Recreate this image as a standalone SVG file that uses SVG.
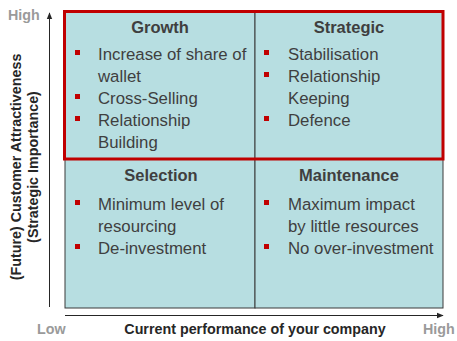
<svg xmlns="http://www.w3.org/2000/svg" width="457" height="341" viewBox="0 0 457 341">
  <defs>
    <marker id="arrow" viewBox="0 0 10 10" refX="9" refY="5" markerWidth="7" markerHeight="7" markerUnits="userSpaceOnUse" orient="auto">
      <path d="M0,1 L10,5 L0,9 Z" fill="#262626"/>
    </marker>
    <rect id="bullet" width="5" height="5" fill="#c00000"/>
  </defs>
  <style>
    .cell { fill: #b7dee1; stroke: #3a3a3a; stroke-width: 1; }
    .title { font-family: "Liberation Sans", Arial, sans-serif; font-weight: bold; font-size: 16.5px; fill: #3f3f3f; text-anchor: middle; }
    .item { font-family: "Liberation Sans", Arial, sans-serif; font-size: 16.8px; fill: #3f3f3f; }
    .axis-title { font-family: "Liberation Sans", Arial, sans-serif; font-weight: bold; font-size: 14.3px; fill: #262626; text-anchor: middle; }
    .tick { font-family: "Liberation Sans", Arial, sans-serif; font-weight: bold; font-size: 14.3px; fill: #9a9a9a; }
    .axis { stroke: #262626; stroke-width: 1; fill: none; }
  </style>

  <!-- quadrant backgrounds -->
  <g id="growth">
    <rect class="cell" x="65" y="12" width="190" height="147"/>
    <text class="title" x="160" y="33">Growth</text>
    <use href="#bullet" x="75" y="50"/>
    <text class="item" x="98" y="60">Increase of share of</text>
    <text class="item" x="98" y="82">wallet</text>
    <use href="#bullet" x="75" y="94"/>
    <text class="item" x="98" y="104">Cross-Selling</text>
    <use href="#bullet" x="75" y="116"/>
    <text class="item" x="98" y="126">Relationship</text>
    <text class="item" x="98" y="148">Building</text>
  </g>

  <g id="strategic">
    <rect class="cell" x="255" y="12" width="188" height="147"/>
    <text class="title" x="349" y="33">Strategic</text>
    <use href="#bullet" x="264" y="50"/>
    <text class="item" x="288" y="60">Stabilisation</text>
    <use href="#bullet" x="264" y="72"/>
    <text class="item" x="288" y="82">Relationship</text>
    <text class="item" x="288" y="104">Keeping</text>
    <use href="#bullet" x="264" y="116"/>
    <text class="item" x="288" y="126">Defence</text>
  </g>

  <g id="selection">
    <rect class="cell" x="65" y="159" width="190" height="149"/>
    <text class="title" x="161" y="181">Selection</text>
    <use href="#bullet" x="75" y="200"/>
    <text class="item" x="98" y="210">Minimum level of</text>
    <text class="item" x="98" y="232">resourcing</text>
    <use href="#bullet" x="75" y="244"/>
    <text class="item" x="98" y="254">De-investment</text>
  </g>

  <g id="maintenance">
    <rect class="cell" x="255" y="159" width="188" height="149"/>
    <text class="title" x="349" y="181">Maintenance</text>
    <use href="#bullet" x="264" y="200"/>
    <text class="item" x="288" y="210">Maximum impact</text>
    <text class="item" x="288" y="232">by little resources</text>
    <use href="#bullet" x="264" y="244"/>
    <text class="item" x="288" y="254">No over-investment</text>
  </g>

  <!-- highlight of the high-attractiveness row -->
  <g id="focus">
    <rect x="64.5" y="11.5" width="378.5" height="147.5" fill="none" stroke="#c00000" stroke-width="3"/>
  </g>

  <!-- axes -->
  <g id="connectors">
    <line class="axis" x1="49.5" y1="307" x2="49.5" y2="13" marker-end="url(#arrow)"/>
    <line class="axis" x1="65" y1="315.5" x2="443" y2="315.5" marker-end="url(#arrow)"/>
  </g>

  <g id="axis-labels">
    <text class="tick" x="8" y="20">High</text>
    <text class="tick" x="37" y="334">Low</text>
    <text class="tick" x="423" y="334">High</text>
    <text class="axis-title" x="255" y="334">Current performance of your company</text>
    <text class="axis-title" transform="translate(21,167) rotate(-90)">(Future) Customer Attractiveness</text>
    <text class="axis-title" transform="translate(38,167) rotate(-90)">(Strategic Importance)</text>
  </g>
</svg>
